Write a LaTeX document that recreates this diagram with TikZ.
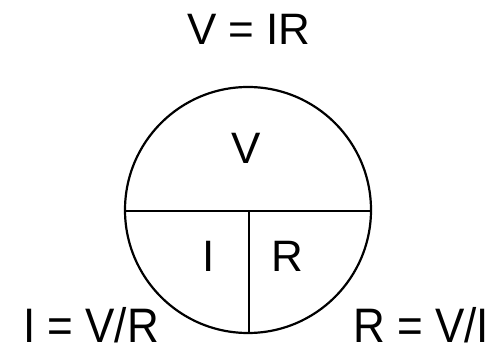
\documentclass[tikz,border=0pt]{standalone}
\usepackage{fontspec}
\setmainfont{Liberation Sans}
\begin{document}
\begin{tikzpicture}[x=1pt,y=-1pt,
  lbl/.style={inner sep=0pt,font=\fontsize{44}{44}\selectfont},
  ln/.style={line width=2.2pt,black}]
\useasboundingbox[fill=white] (0,0) rectangle (501,347);
\coordinate (c) at (248,210);
\draw[ln] (c) circle[radius=123];
\coordinate (l) at (125,211);
\coordinate (r) at (371,211);
\coordinate (m) at (249,211);
\coordinate (b) at (249,333);
\draw[ln] (l) -- (r);
\draw[ln] (m) -- (b);
\node[lbl] (top) at (249,29) {V = IR};
\node[lbl] (v) at (246,148) {V};
\node[lbl] (i) at (209,256) {I};
\node[lbl] (rr) at (287,256) {R};
\node[lbl,yscale=1.1] (il) at (91,325) {I = V/R};
\node[lbl,yscale=1.1] (rl) at (421,325) {R = V/I};
\end{tikzpicture}
\end{document}
